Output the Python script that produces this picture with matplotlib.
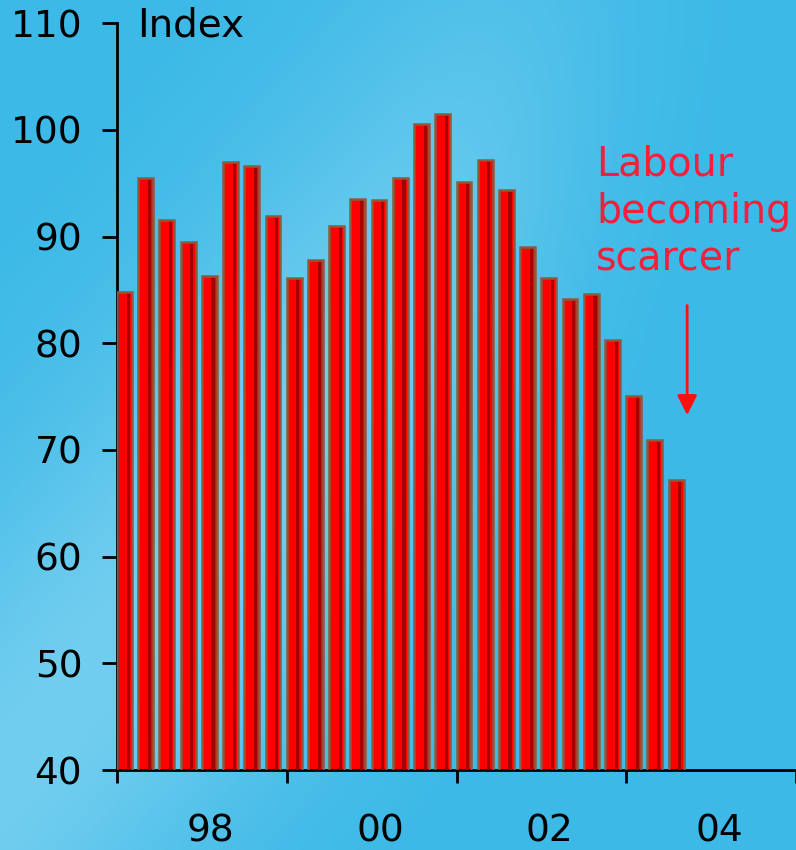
import numpy as np
import matplotlib.pyplot as plt

# quarterly index values, first quarter of 1997 onward
values = [84.8, 95.5, 91.6, 89.5, 86.3, 97.0, 96.6, 91.9,
          86.1, 87.8, 91.0, 93.5, 93.4, 95.5, 100.6, 101.5,
          95.1, 97.2, 94.4, 89.0, 86.1, 84.2, 84.6, 80.3,
          75.1, 70.9, 67.2]
year_labels = ['98', '00', '02', '04']
y_ticks = [40, 50, 60, 70, 80, 90, 100, 110]
note_lines = ['Labour', 'becoming', 'scarcer']

fig = plt.figure(figsize=(7.96, 8.5), dpi=100)

# background: blue with a soft lighter diagonal band (bottom-left to upper-right)
bg = fig.add_axes([0, 0, 1, 1], zorder=-10)
gx, gy = np.meshgrid(np.linspace(0, 1, 400), np.linspace(0, 1, 430))
d = np.abs(gy + 1.09 * gx - 0.92) / 1.48
band = np.exp(-(d / 0.24) ** 2)
fade = 1 / (1 + np.exp((gx - 0.66) / 0.08))
band = band * fade * 0.9
base = np.array([60, 185, 231]) / 255.0
light = np.array([120, 208, 240]) / 255.0
img = base + (light - base) * band[..., None]
bg.imshow(img, aspect='auto', extent=[0, 1, 0, 1], origin='upper')
bg.axis('off')

ax = fig.add_axes([0.147, 0.0941, 0.853, 0.8785])
ax.patch.set_alpha(0)

x = np.arange(len(values))
ax.bar(x, values, width=0.7, align='edge', color='#ff0000', linewidth=0, zorder=2)
ax.bar(x + 0.45, values, width=0.15, align='edge', color='#a50000', linewidth=0, zorder=3)
ax.bar(x, values, width=0.7, align='edge', facecolor='none', edgecolor='#8e5a3e',
       linewidth=1.8, zorder=4)

ax.set_xlim(0, 32)
ax.set_ylim(40, 110)

for s in ['top', 'right']:
    ax.spines[s].set_visible(False)
for s in ['left', 'bottom']:
    ax.spines[s].set_linewidth(2)
    ax.spines[s].set_color('black')

ax.set_yticks(y_ticks)
ax.set_yticklabels([str(v) for v in y_ticks])
ax.tick_params(axis='y', length=11, width=2, pad=14, labelsize=27, colors='black')

ax.set_xticks([0, 8, 16, 24, 32])
ax.set_xticklabels([])
ax.tick_params(axis='x', which='major', length=9, width=2, colors='black')
ax.set_xticks([4.4, 12.4, 20.4, 28.4], minor=True)
ax.set_xticklabels(year_labels, minor=True)
ax.tick_params(axis='x', which='minor', length=0, pad=31, labelsize=27)

ax.text(0.94, 108.8, 'Index', fontsize=28, va='baseline', ha='left')

for i, line in enumerate(note_lines):
    ax.text(22.59, 95.69 - i * 4.41, line, fontsize=28.5, color='#f2203a',
            va='baseline', ha='left')

ax.annotate('', xy=(26.87, 73.0), xytext=(26.87, 83.8),
            arrowprops=dict(arrowstyle='-|>', color='#ff1010', lw=2,
                            mutation_scale=30))

fig.savefig('out.png', dpi=100)
